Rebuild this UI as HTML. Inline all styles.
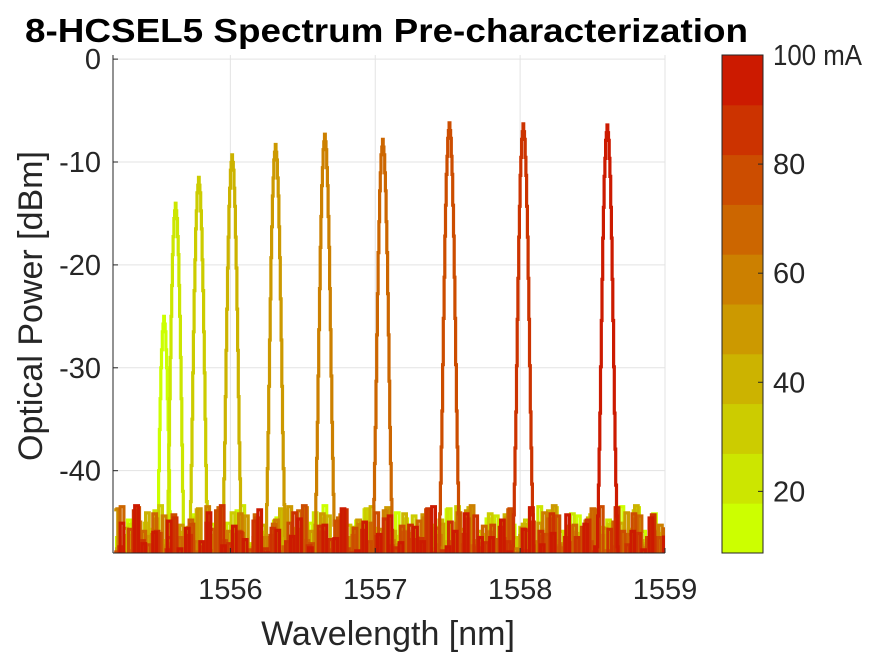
<!DOCTYPE html>
<html><head><meta charset="utf-8"><style>
html,body{margin:0;padding:0;background:#fff}
svg{display:block;font-family:"Liberation Sans",Arial,sans-serif}
</style></head><body>
<svg id="chart" width="875" height="656" viewBox="0 0 875 656">
<text x="25" y="42" textLength="723" lengthAdjust="spacingAndGlyphs" font-size="33" font-weight="bold" fill="#000">8-HCSEL5 Spectrum Pre-characterization</text>
<g id="grid"></g>
<defs><clipPath id="pc"><rect x="113" y="55" width="552" height="498"/></clipPath></defs>
<g id="series" clip-path="url(#pc)"></g>
<g id="axes"></g>
<text x="388" y="645" text-anchor="middle" font-size="34" fill="#262626">Wavelength [nm]</text>
<text transform="translate(42,306) rotate(-90)" text-anchor="middle" font-size="34" fill="#262626">Optical Power [dBm]</text>
<g id="cbar"></g>
</svg>
<script>
const currents=[10,20,30,40,50,60,70,80,90,100];
const centers=[1555.54,1555.62,1555.78,1556.01,1556.31,1556.65,1557.05,1557.51,1558.02,1558.60];
const peakPower=[-25,-14,-11.5,-9.3,-8.3,-7.3,-7.8,-6.2,-6.3,-6.4];
const profileOffsets=[0,0.01,0.02,0.03,0.04,0.05,0.06,0.07];
const profileDb=[0,-1.5,-5,-11,-19,-28,-35,-41];
const noiseFloor=[-52,-46.5,-52,-52,-44.8,-52,-47.9,-52,-52,-52,-45.7,-52,-43.6,-52,-52,-47.2,-52,-52,-46.1,-52,-52,-52,-44.3,-52,-48.5,-52,-52,-45.2,-52,-52,-47.4,-52,-52,-52,-43.9,-52,-46.8,-52,-52,-52,-45.9,-52,-52,-47.7,-52,-44.6,-52,-52,-52,-46.3,-52,-52,-48.2,-52,-45.1,-52,-52,-52,-43.4,-52,-47.1,-52,-52,-46.0,-52,-52,-52,-44.9,-52,-52,-47.6,-52,-45.6,-52,-52,-52,-46.9,-52,-44.1,-52,-52,-52,-47.3,-52,-52,-45.4,-52,-52,-46.7,-52,-52,-52,-43.8,-52,-48.0,-52,-52,-45.8,-52,-52,-52,-46.4,-52,-44.7,-52,-52,-47.5,-52,-52,-52,-45.3,-52,-52,-46.6,-52,-43.7,-52,-52,-52,-47.8,-52,-45.0,-52,-52,-52,-46.2,-52,-52,-44.4,-52,-52,-47.0,-52,-52,-52,-45.5,-52,-46.9,-52,-52,-43.5,-52,-52,-52,-47.4,-52,-45.9,-52,-52,-44.2,-52,-52,-52,-46.5,-52];
const xTicks=[1556,1557,1558,1559];
const yTicks=[0,-10,-20,-30,-40];
const cTicks=[20,40,60,80,100];
const cmapColors=["#ccff00","#cce600","#cccc00","#ccb300","#cc9900","#cc8000","#cc6600","#cc4d00","#cc3300","#cc1a00"];

const X0=113,X1=665,Y0=55,Y1=553;
const xMin=1555.19,xMax=1559,yMin=-48,yMax=0.4;
const cMin=8.7,cMax=100;
const xs=v=>X0+(v-xMin)/(xMax-xMin)*(X1-X0);
const ys=v=>Y1-(v-yMin)/(yMax-yMin)*(Y1-Y0);
const cs=v=>Y1-(v-cMin)/(cMax-cMin)*(Y1-Y0);
const NS="http://www.w3.org/2000/svg";
function mk(tag,attrs,parent){const e=document.createElementNS(NS,tag);for(const k in attrs)e.setAttribute(k,attrs[k]);parent.appendChild(e);return e;}
function cmap(v){let i=Math.floor((v-cMin)/(cMax-cMin)*cmapColors.length);i=Math.max(0,Math.min(cmapColors.length-1,i));return cmapColors[i];}

const grid=document.getElementById('grid');
xTicks.forEach(t=>{const l=mk('line',{x1:xs(t),x2:xs(t),y1:Y0,y2:Y1,stroke:'#e3e3e3','stroke-width':1},grid);
});
yTicks.forEach(t=>{const l=mk('line',{x1:X0,x2:X1,y1:ys(t),y2:ys(t),stroke:'#e3e3e3','stroke-width':1},grid);
});

function profileAt(d){d=Math.abs(d);for(let i=0;i<profileOffsets.length-1;i++){if(d<profileOffsets[i+1]){const f=(d-profileOffsets[i])/(profileOffsets[i+1]-profileOffsets[i]);return profileDb[i]+f*(profileDb[i+1]-profileDb[i]);}}return -999;}

const series=document.getElementById('series');
const step=0.025;
currents.forEach((c,k)=>{
  let pts=[];const n=Math.round((xMax-xMin)/step);
  for(let i=0;i<=n;i++){
    const w=xMin+i*step+(k%3)*0.008;
    pts.push([w,noiseFloor[(i+k*23)%noiseFloor.length]]);
  }
  const fine=[];
  for(let d=-0.08;d<=0.08001;d+=0.005){const pv=peakPower[k]+profileAt(d);fine.push([centers[k]+d,Math.max(pv,-52)]);}
  pts=pts.filter(p=>Math.abs(p[0]-centers[k])>0.08).concat(fine).sort((a,b)=>a[0]-b[0]);
  let dstr='';
  pts.forEach((p,i)=>{const x=xs(p[0]),y=ys(p[1]);
    if(i===0)dstr+='M'+x.toFixed(1)+' '+y.toFixed(1);
    else dstr+=' H'+x.toFixed(1)+' V'+y.toFixed(1);});
  const path=mk('path',{d:dstr,fill:'none',stroke:cmap(c),'stroke-width':3.2},series);
  
  
});

const axes=document.getElementById('axes');
mk('line',{x1:X0,x2:X0,y1:Y0,y2:Y1,stroke:'#262626','stroke-width':1},axes);
mk('line',{x1:X0,x2:X1,y1:Y1,y2:Y1,stroke:'#262626','stroke-width':1},axes);
xTicks.forEach(t=>{
  mk('line',{x1:xs(t),x2:xs(t),y1:Y1,y2:Y1-5,stroke:'#262626'},axes);
  const tx=mk('text',{x:xs(t),y:Y1+46,'text-anchor':'middle','font-size':29,fill:'#262626'},axes);
  tx.textContent=t;
  
  
});
yTicks.forEach(t=>{
  mk('line',{x1:X0,x2:X0+5,y1:ys(t),y2:ys(t),stroke:'#262626'},axes);
  const tx=mk('text',{x:X0-12,y:ys(t)+10,'text-anchor':'end','font-size':29,fill:'#262626'},axes);
  tx.textContent=t;
  
  
});

const cb=document.getElementById('cbar');
const CX0=722,CX1=763;
cmapColors.forEach((col,i)=>{
  const lo=cMin+i*(cMax-cMin)/cmapColors.length,hi=cMin+(i+1)*(cMax-cMin)/cmapColors.length;
  const r=mk('rect',{x:CX0,y:cs(hi),width:CX1-CX0,height:cs(lo)-cs(hi)+0.5,fill:col},cb);
  
  
});
mk('rect',{x:CX0,y:Y0,width:CX1-CX0,height:Y1-Y0,fill:'none',stroke:'#262626','stroke-width':1},cb);
cTicks.forEach(t=>{
  mk('line',{x1:CX1-5,x2:CX1,y1:cs(t),y2:cs(t),stroke:'#262626'},cb);
  const tx=mk('text',{x:CX1+10,y:cs(t)+10,'font-size':29,fill:'#262626'},cb);
  tx.textContent=t===100?'100 mA':t;
  if(t===100){tx.setAttribute('textLength','89');tx.setAttribute('lengthAdjust','spacingAndGlyphs');}
  
  
});
</script>
</body></html>
